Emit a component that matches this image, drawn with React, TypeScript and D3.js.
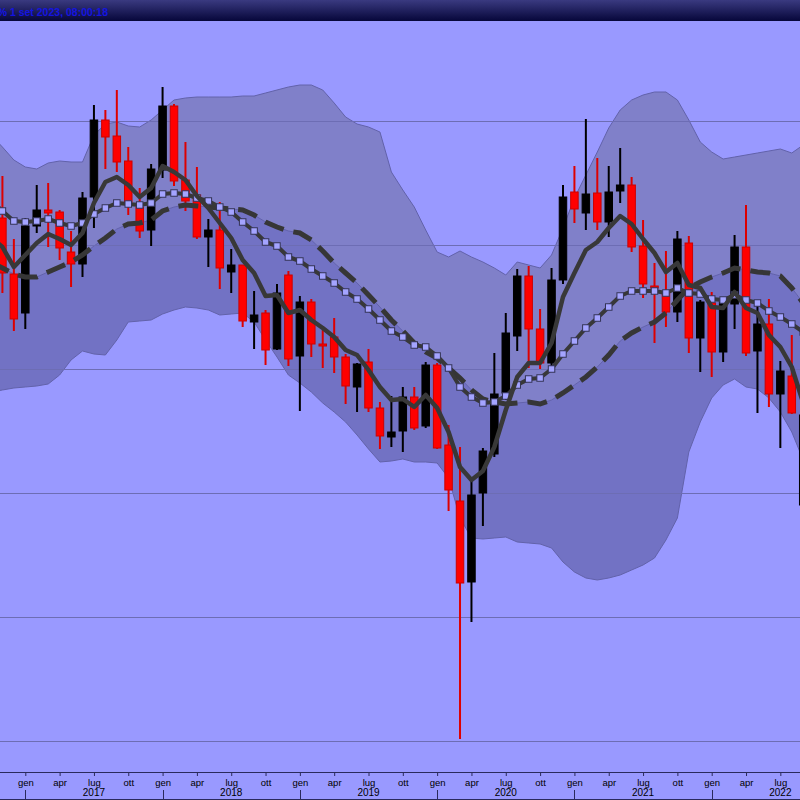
import * as d3 from "d3";
import { useEffect, useRef } from "react";

const W = 800;
const H = 800;

// first candle is ott 2016; month index 0 = gen 2017
const firstMonth = -3;

const open = [
  63.0, 64.7, 59.1,
  55.2, 63.9, 65.5, 65.3, 61.3, 60.1, 66.8, 74.5, 72.9, 70.4, 65.8, 63.5,
  69.5, 75.9, 68.5, 67.0, 62.8, 63.5, 59.3, 60.0, 54.3, 55.2, 51.6, 59.0,
  50.9, 56.3, 52.1, 52.8, 50.8, 47.8, 50.3, 45.7, 42.8, 43.4, 46.8, 43.9,
  50.0, 42.0, 36.4, 28.3, 37.2, 41.1, 47.2, 52.9, 58.9, 53.6, 50.2, 58.5,
  67.3, 65.2, 67.2, 64.3, 67.4, 68.0, 61.9, 57.9, 57.2, 55.3, 62.2, 52.7,
  56.2, 51.3, 56.1, 61.8, 51.4, 54.1, 47.1, 48.9, 36.0,
];
const high = [
  66.5, 68.9, 62.6,
  64.7, 68.0, 68.2, 65.5, 63.4, 67.3, 76.0, 75.5, 77.5, 71.8, 67.7, 70.1,
  77.8, 76.1, 72.3, 69.8, 64.6, 66.3, 61.6, 60.0, 57.4, 55.5, 58.1, 59.4,
  56.9, 56.6, 53.5, 54.7, 51.1, 50.2, 51.6, 46.3, 46.9, 47.8, 47.8, 50.3,
  50.2, 44.0, 41.8, 38.8, 41.7, 51.2, 55.2, 59.6, 59.9, 55.6, 59.7, 68.0,
  69.9, 74.6, 70.7, 69.9, 71.7, 68.8, 64.5, 60.2, 61.4, 63.4, 62.9, 56.5,
  57.3, 56.5, 63.0, 66.0, 56.0, 56.6, 50.4, 53.0, 46.0,
];
const low = [
  61.5, 57.2, 53.4,
  53.6, 63.2, 61.8, 60.5, 57.8, 58.8, 63.7, 69.6, 69.3, 65.0, 62.7, 61.9,
  68.7, 67.9, 65.4, 62.6, 59.8, 57.6, 57.2, 53.8, 51.6, 50.0, 51.5, 49.9,
  45.4, 50.8, 49.7, 49.2, 46.1, 45.3, 45.3, 41.6, 41.8, 41.3, 43.5, 43.7,
  41.6, 35.4, 12.6, 24.3, 33.9, 40.8, 46.5, 51.4, 49.7, 49.6, 49.8, 58.1,
  64.2, 63.5, 63.5, 62.8, 66.2, 61.3, 56.7, 52.2, 53.8, 54.3, 51.2, 49.3,
  48.8, 50.3, 53.6, 50.9, 45.2, 45.8, 41.7, 45.1, 34.7,
];
const close = [
  64.7, 59.2, 54.6,
  63.9, 65.5, 65.2, 61.7, 60.1, 66.7, 74.5, 72.8, 70.3, 66.3, 63.4, 69.6,
  75.9, 68.4, 66.4, 62.8, 63.5, 59.7, 60.0, 54.4, 55.0, 51.5, 57.2, 50.6,
  56.3, 52.1, 51.9, 50.8, 47.9, 50.1, 45.7, 42.9, 43.3, 46.8, 43.7, 50.0,
  41.7, 37.5, 28.2, 37.0, 41.4, 47.1, 53.2, 58.9, 53.6, 50.2, 58.5, 66.8,
  65.6, 67.1, 64.3, 67.3, 68.0, 61.8, 58.1, 57.7, 55.3, 62.6, 52.7, 56.3,
  51.3, 56.3, 61.8, 51.2, 54.1, 47.1, 49.4, 45.2, 45.0,
];

// moving averages
const smaShort = [
  62.8, 61.8, 59.8,
  61.0, 62.2, 63.1, 62.6, 62.0, 63.2, 66.2, 68.3, 68.8, 68.0, 66.8, 67.7,
  69.9, 69.3, 68.5, 66.9, 65.7, 64.2, 62.7, 60.5, 59.2, 56.9, 57.0, 55.2,
  55.5, 54.5, 53.7, 52.8, 51.5, 51.0, 49.5, 47.8, 46.5, 46.6, 45.8, 47.0,
  45.7, 43.3, 39.8, 38.5, 39.4, 41.8, 45.5, 48.8, 50.2, 50.2, 52.2, 56.8,
  59.2, 61.5, 62.3, 63.7, 64.9, 64.1, 62.6, 61.2, 59.3, 60.2, 58.0, 57.7,
  55.8, 55.7, 57.3, 55.7, 55.2, 53.0, 51.8, 49.8, 46.2,
];
const smaMid = [
  66.5, 65.4, 64.4,
  64.3, 64.4, 64.6, 64.2, 63.9, 64.2, 65.1, 65.7, 66.2, 66.1, 66.0, 66.2,
  67.1, 67.2, 67.1, 66.7, 66.4, 65.8, 65.3, 64.3, 63.4, 62.3, 61.9, 60.8,
  60.4, 59.6, 58.9, 58.2, 57.3, 56.6, 55.6, 54.5, 53.4, 52.8, 52.0, 51.8,
  50.9, 49.7, 47.8, 46.8, 46.2, 46.3, 46.9, 48.0, 48.6, 48.7, 49.6, 51.1,
  52.4, 53.7, 54.7, 55.8, 56.9, 57.4, 57.4, 57.4, 57.2, 57.7, 57.2, 57.1,
  56.6, 56.5, 57.0, 56.5, 56.2, 55.4, 54.8, 54.1, 53.3,
];
const smaLong = [
  60.3, 59.7, 59.1,
  58.8, 58.8, 59.3, 59.8, 60.3, 61.0, 61.9, 62.7, 63.6, 64.1, 64.2, 64.5,
  65.4, 65.8, 66.0, 65.9, 65.8, 65.7, 65.6, 65.5, 65.0, 64.3, 63.8, 63.4,
  63.2, 62.5, 61.4, 60.2, 59.2, 58.2, 57.0, 55.8, 54.5, 53.4, 52.2, 51.3,
  50.7, 49.7, 48.7, 47.5, 46.6, 46.3, 46.1, 46.2, 46.3, 46.1, 46.5, 47.2,
  48.0, 48.8, 49.8, 51.0, 52.4, 53.2, 53.8, 54.3, 55.2, 56.5, 57.7, 58.3,
  58.8, 59.2, 59.7, 59.5, 59.3, 59.2, 58.9, 57.7, 56.2,
];
// bollinger bands around smaLong
const bandUpper = [
  73.0, 71.8, 70.5,
  69.8, 69.6, 70.2, 70.4, 70.3, 70.3, 73.0, 74.1, 74.3, 73.9, 73.8, 74.5,
  75.5, 76.5, 76.7, 76.8, 76.8, 76.8, 76.8, 76.9, 76.9, 77.2, 77.5, 77.8,
  78.0, 78.0, 77.5, 76.2, 74.8, 74.1, 73.8, 73.3, 69.3, 67.5, 65.8, 63.5,
  61.3, 60.8, 61.4, 60.8, 60.3, 59.7, 59.0, 60.3, 60.0, 59.7, 61.0, 63.7,
  66.7, 69.0, 71.3, 73.7, 75.5, 76.5, 77.0, 77.3, 77.3, 76.5, 74.5, 72.3,
  71.3, 70.6, 70.8, 71.0, 71.2, 71.4, 71.6, 71.2, 72.0,
];
const bandLower = [
  47.3, 47.5, 47.7,
  47.8, 47.9, 48.1, 49.0, 50.5, 51.4, 51.1, 51.0, 52.5, 54.3, 54.4, 54.5,
  55.1, 55.5, 55.8, 55.7, 55.5, 55.0, 55.1, 55.2, 54.3, 52.5, 50.8, 49.0,
  48.2, 47.3, 46.2, 45.3, 44.3, 43.0, 41.6, 40.3, 40.4, 40.6, 40.3, 40.3,
  40.2, 38.7, 34.7, 32.7, 32.6, 32.7, 32.8, 32.3, 32.2, 32.1, 31.7, 30.3,
  29.3, 28.7, 28.5, 28.7, 29.0, 29.5, 30.0, 30.7, 32.5, 34.7, 41.3, 44.3,
  46.7, 48.0, 48.6, 47.8, 47.6, 46.7, 45.3, 43.3, 40.5,
];

const gridValues = [74.4, 62.0, 49.6, 37.2, 24.8, 12.4];
const monthLabels = ["gen", "apr", "lug", "ott"];
const years = [2017, 2018, 2019, 2020, 2021, 2022];
const headerText = "% 1 set 2023, 08:00:18";

export default function App() {
  const ref = useRef<SVGSVGElement>(null);

  useEffect(() => {
    if (!ref.current) return;
    const svg = d3.select(ref.current);
    svg.selectAll("*").remove();

    const x = d3.scaleLinear().domain([0, 60]).range([25.3, 711.7]);
    const y = d3.scaleLinear().domain([0, 86.5]).range([865, 0]);
    const months = close.map((_, i) => i + firstMonth);
    const idx = d3.range(months.length);

    const defs = svg.append("defs");
    const grad = defs
      .append("linearGradient")
      .attr("id", "hdr")
      .attr("x1", 0)
      .attr("y1", 0)
      .attr("x2", 0)
      .attr("y2", 1);
    grad.append("stop").attr("offset", "0%").attr("stop-color", "#3a3a80");
    grad.append("stop").attr("offset", "100%").attr("stop-color", "#06063a");
    defs
      .append("clipPath")
      .attr("id", "plot")
      .append("rect")
      .attr("x", 0)
      .attr("y", 21)
      .attr("width", W)
      .attr("height", 750);

    // background
    svg.append("rect").attr("width", W).attr("height", H).attr("fill", "#9999ff");

    const plot = svg.append("g").attr("clip-path", "url(#plot)");

    // bands
    const upperArea = d3
      .area<number>()
      .x((i) => x(months[i]))
      .y0((i) => y(smaLong[i]))
      .y1((i) => y(bandUpper[i]));
    const lowerArea = d3
      .area<number>()
      .x((i) => x(months[i]))
      .y0((i) => y(bandLower[i]))
      .y1((i) => y(smaLong[i]));
    plot.append("path").attr("d", upperArea(idx)).attr("fill", "#8080c9");
    plot.append("path").attr("d", lowerArea(idx)).attr("fill", "#7272c4");

    const lineOf = (arr: number[]) =>
      d3
        .line<number>()
        .x((i) => x(months[i]))
        .y((i) => y(arr[i]))(idx);

    [bandUpper, bandLower, smaLong].forEach((arr) => {
      plot
        .append("path")
        .attr("d", lineOf(arr))
        .attr("fill", "none")
        .attr("stroke", "#6262aa")
        .attr("stroke-width", 1);
    });

    // grid
    plot
      .selectAll(".grid")
      .data(gridValues)
      .enter()
      .append("line")
      .attr("x1", 0)
      .attr("x2", W)
      .attr("y1", (d) => Math.round(y(d)) + 0.5)
      .attr("y2", (d) => Math.round(y(d)) + 0.5)
      .attr("stroke", "#6d6db4")
      .attr("stroke-width", 1);

    // candles
    const candles = plot
      .selectAll(".candle")
      .data(idx)
      .enter()
      .append("g");
    const isDown = (i: number) => close[i] < open[i];

    candles
      .append("line")
      .attr("x1", (i) => x(months[i]))
      .attr("x2", (i) => x(months[i]))
      .attr("y1", (i) => y(high[i]))
      .attr("y2", (i) => y(low[i]))
      .attr("stroke", (i) => (isDown(i) ? "#dd0000" : "#000000"))
      .attr("stroke-width", 2);

    candles
      .append("rect")
      .attr("x", (i) => x(months[i]) - 3.75)
      .attr("width", 7.5)
      .attr("y", (i) => y(Math.max(open[i], close[i])))
      .attr("height", (i) =>
        Math.max(1.5, Math.abs(y(open[i]) - y(close[i])))
      )
      .attr("fill", (i) => (isDown(i) ? "#ff0000" : "#000000"))
      .attr("stroke", (i) => (isDown(i) ? "#cc0000" : "#000000"))
      .attr("stroke-width", 1);

    // long MA, dashed
    plot
      .append("path")
      .attr("d", lineOf(smaLong))
      .attr("fill", "none")
      .attr("stroke", "#363636")
      .attr("stroke-width", 5)
      .attr("stroke-dasharray", "20,10");

    // mid MA with square markers
    plot
      .append("path")
      .attr("d", lineOf(smaMid))
      .attr("fill", "none")
      .attr("stroke", "#383838")
      .attr("stroke-width", 4)
      .attr("stroke-linejoin", "round");
    plot
      .selectAll(".sq")
      .data(idx)
      .enter()
      .append("rect")
      .attr("x", (i) => x(months[i]) - 3.25)
      .attr("y", (i) => y(smaMid[i]) - 3.25)
      .attr("width", 6.5)
      .attr("height", 6.5)
      .attr("fill", "#a4a4ff")
      .attr("stroke", "#333355")
      .attr("stroke-width", 1);

    // short MA
    plot
      .append("path")
      .attr("d", lineOf(smaShort))
      .attr("fill", "none")
      .attr("stroke", "#383838")
      .attr("stroke-width", 4.5)
      .attr("stroke-linejoin", "round");

    // x axis (only quarters that fall on the canvas)
    const quarterTicks = d3.range(-3, 72, 3).filter((m) => x(m) > 4 && x(m) < 796);
    const axis = svg.append("g").attr("transform", "translate(0,772)");
    axis
      .call(
        d3
          .axisBottom(x)
          .tickValues(quarterTicks)
          .tickSize(4)
          .tickPadding(3)
          .tickFormat((d) => monthLabels[(((+d % 12) + 12) % 12) / 3])
      )
      .call((g) => g.select(".domain").remove());
    axis.selectAll(".tick line").attr("stroke", "#2a2a5c");
    axis
      .selectAll(".tick text")
      .attr("font-family", "'Liberation Sans', Arial, sans-serif")
      .attr("font-size", 9.5)
      .attr("fill", "#000");

    svg
      .append("line")
      .attr("x1", 0)
      .attr("x2", W)
      .attr("y1", 772.5)
      .attr("y2", 772.5)
      .attr("stroke", "#2a2a5c");
    svg
      .append("line")
      .attr("x1", 0)
      .attr("x2", W)
      .attr("y1", 799.5)
      .attr("y2", 799.5)
      .attr("stroke", "#2a2a5c");

    svg
      .selectAll(".ysep")
      .data(years)
      .enter()
      .append("line")
      .attr("x1", (d) => Math.round(x((d - 2017) * 12)) + 0.5)
      .attr("x2", (d) => Math.round(x((d - 2017) * 12)) + 0.5)
      .attr("y1", 790)
      .attr("y2", 800)
      .attr("stroke", "#2a2a5c");
    svg
      .selectAll(".ylab")
      .data(years)
      .enter()
      .append("text")
      .attr("x", (d) => x((d - 2017) * 12 + 6))
      .attr("y", 796)
      .attr("text-anchor", "middle")
      .attr("font-family", "'Liberation Sans', Arial, sans-serif")
      .attr("font-size", 10)
      .attr("fill", "#000")
      .text((d) => String(d));

    // header
    svg.append("rect").attr("width", W).attr("height", 21).attr("fill", "url(#hdr)");
    svg
      .append("text")
      .attr("x", 108)
      .attr("y", 16)
      .attr("text-anchor", "end")
      .attr("font-family", "'Liberation Sans', Arial, sans-serif")
      .attr("font-weight", "bold")
      .attr("font-size", 10.5)
      .attr("fill", "#1414e0")
      .text(headerText);

    return () => {
      svg.selectAll("*").remove();
    };
  }, []);

  return (
    <div style={{ position: "fixed", left: 0, top: 0, width: W, height: H }}>
      <svg ref={ref} width={W} height={H} style={{ display: "block" }} />
    </div>
  );
}
